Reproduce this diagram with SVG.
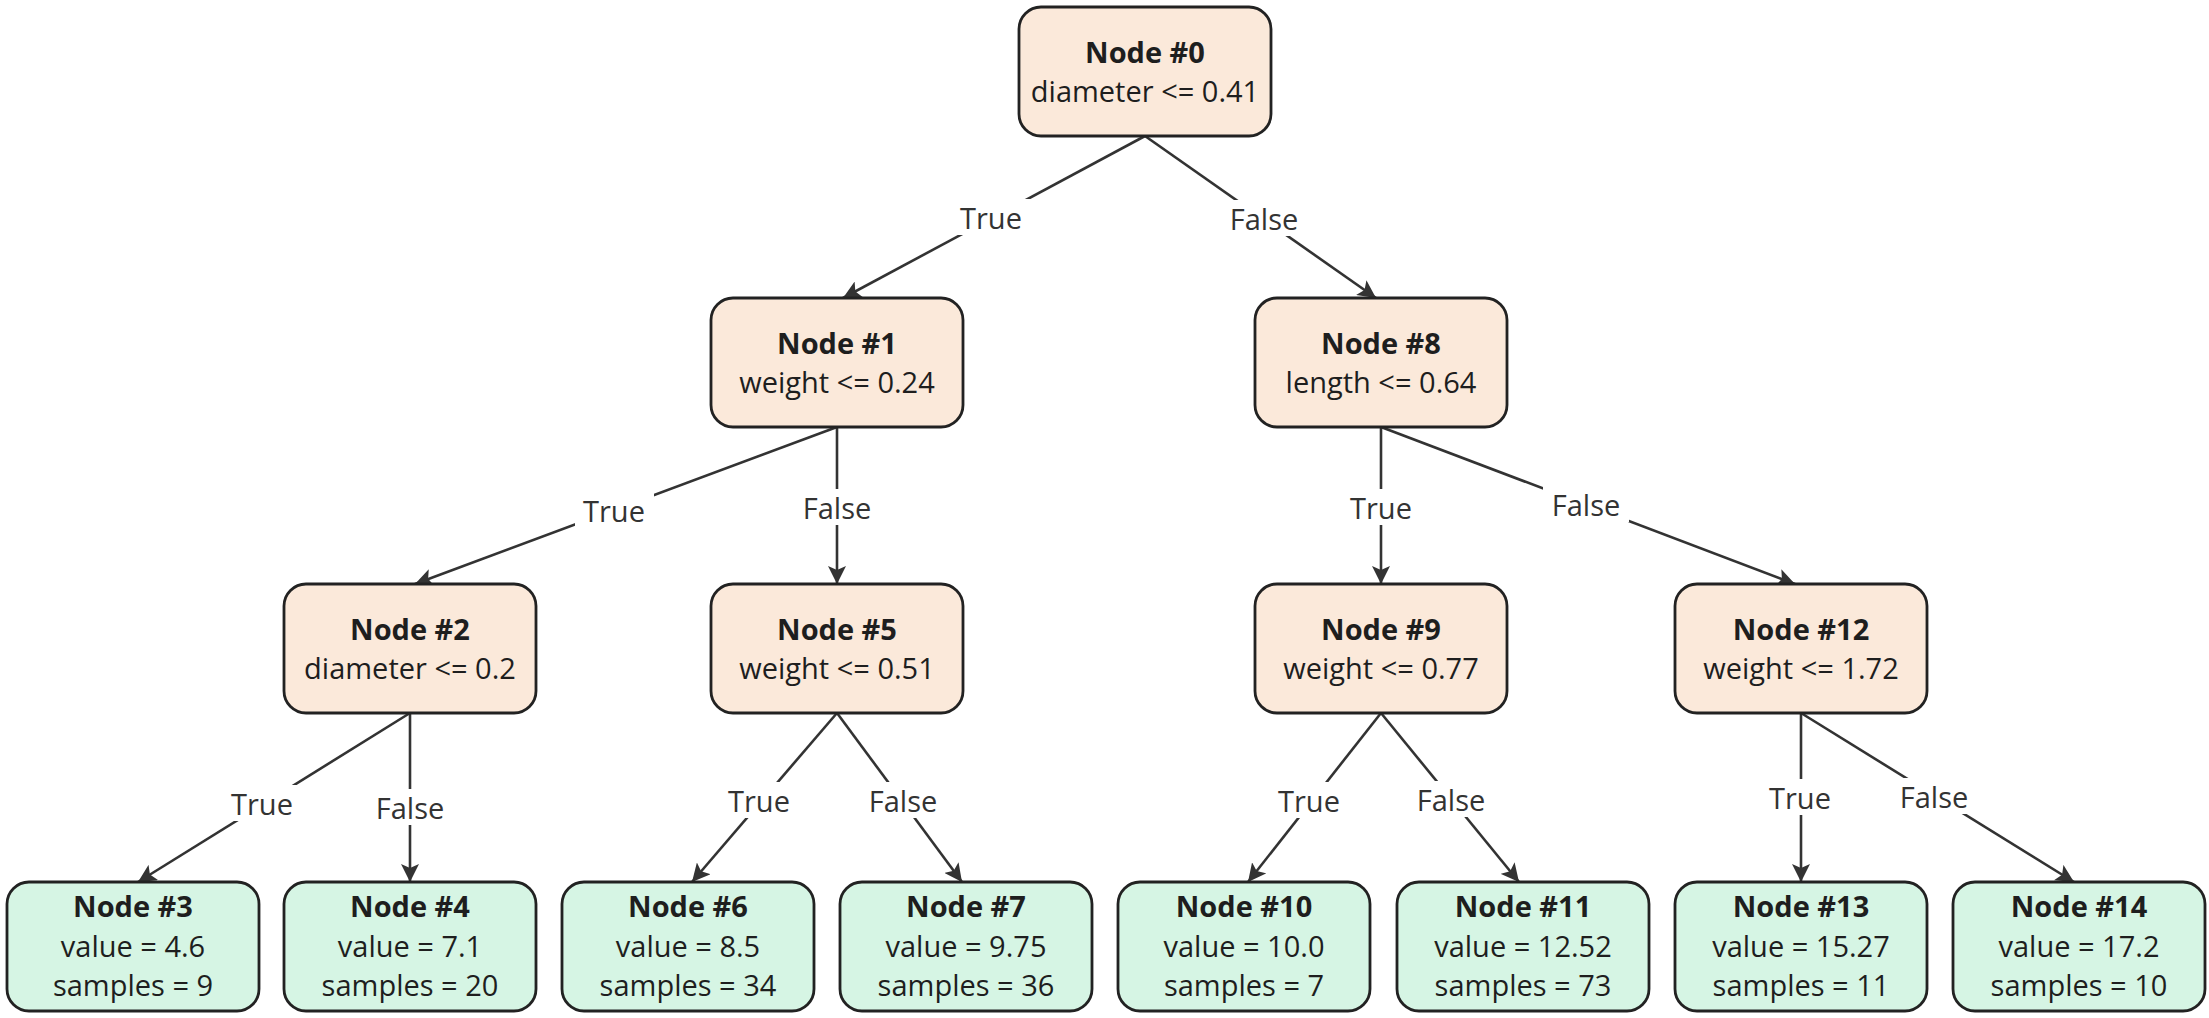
<svg xmlns="http://www.w3.org/2000/svg" width="2209" height="1018" viewBox="0 0 2209 1018">
<style>
.split rect{fill:#fbe9da;stroke:#222;stroke-width:2.8}
.leaf rect{fill:#d6f5e4;stroke:#222;stroke-width:2.8}
text{font-family:"Open Sans","Noto Sans","Liberation Sans",sans-serif;font-size:29px;fill:#1e1e1e;text-anchor:middle}
.t{font-weight:bold}
#edges path{stroke:#333;stroke-width:2.6;fill:none;marker-end:url(#arr)}
#edges rect{fill:#fff}
#edges text{fill:#333;dominant-baseline:central}
</style>
<defs>
<marker id="arr" markerUnits="userSpaceOnUse" markerWidth="20" markerHeight="18" refX="18" refY="9" orient="auto">
<path d="M0,0 L18,9 L0,18 L4,9 Z" fill="#333"/>
</marker>
</defs>
<rect width="2209" height="1018" fill="#fff"/>
<g id="edges">
<path d="M1145,136 L843,298"/>
<path d="M1145,136 L1376,298"/>
<path d="M837,427 L415,584"/>
<path d="M837,427 L837,584"/>
<path d="M1381,427 L1381,584"/>
<path d="M1381,427 L1795,584"/>
<path d="M410,713 L138,882"/>
<path d="M410,713 L410,882"/>
<path d="M837,713 L692,882"/>
<path d="M837,713 L962,882"/>
<path d="M1381,713 L1248,882"/>
<path d="M1381,713 L1519,882"/>
<path d="M1801,713 L1801,882"/>
<path d="M1801,713 L2074,882"/>
<rect x="952" y="199" width="79" height="36"/><text x="991" y="217">True</text>
<rect x="1221" y="200" width="86" height="36"/><text x="1264" y="218">False</text>
<rect x="575" y="492" width="79" height="36"/><text x="614" y="510">True</text>
<rect x="794" y="489" width="86" height="36"/><text x="837" y="507">False</text>
<rect x="1342" y="489" width="79" height="36"/><text x="1381" y="507">True</text>
<rect x="1543" y="486" width="86" height="36"/><text x="1586" y="504">False</text>
<rect x="223" y="785" width="79" height="36"/><text x="262" y="803">True</text>
<rect x="367" y="789" width="86" height="36"/><text x="410" y="807">False</text>
<rect x="720" y="782" width="79" height="36"/><text x="759" y="800">True</text>
<rect x="860" y="782" width="86" height="36"/><text x="903" y="800">False</text>
<rect x="1270" y="782" width="79" height="36"/><text x="1309" y="800">True</text>
<rect x="1408" y="781" width="86" height="36"/><text x="1451" y="799">False</text>
<rect x="1761" y="779" width="79" height="36"/><text x="1800" y="797">True</text>
<rect x="1891" y="778" width="86" height="36"/><text x="1934" y="796">False</text>
</g>
<g id="node0" class="split"><rect x="1019" y="7" width="252" height="129" rx="22"/><text class="t" x="1145" y="63">Node #0</text><text x="1145" y="102">diameter &lt;= 0.41</text></g>
<g id="node1" class="split"><rect x="711" y="298" width="252" height="129" rx="22"/><text class="t" x="837" y="354">Node #1</text><text x="837" y="393">weight &lt;= 0.24</text></g>
<g id="node8" class="split"><rect x="1255" y="298" width="252" height="129" rx="22"/><text class="t" x="1381" y="354">Node #8</text><text x="1381" y="393">length &lt;= 0.64</text></g>
<g id="node2" class="split"><rect x="284" y="584" width="252" height="129" rx="22"/><text class="t" x="410" y="640">Node #2</text><text x="410" y="679">diameter &lt;= 0.2</text></g>
<g id="node5" class="split"><rect x="711" y="584" width="252" height="129" rx="22"/><text class="t" x="837" y="640">Node #5</text><text x="837" y="679">weight &lt;= 0.51</text></g>
<g id="node9" class="split"><rect x="1255" y="584" width="252" height="129" rx="22"/><text class="t" x="1381" y="640">Node #9</text><text x="1381" y="679">weight &lt;= 0.77</text></g>
<g id="node12" class="split"><rect x="1675" y="584" width="252" height="129" rx="22"/><text class="t" x="1801" y="640">Node #12</text><text x="1801" y="679">weight &lt;= 1.72</text></g>
<g id="node3" class="leaf"><rect x="7" y="882" width="252" height="129" rx="22"/><text class="t" x="133" y="917">Node #3</text><text x="133" y="957">value = 4.6</text><text x="133" y="996">samples = 9</text></g>
<g id="node4" class="leaf"><rect x="284" y="882" width="252" height="129" rx="22"/><text class="t" x="410" y="917">Node #4</text><text x="410" y="957">value = 7.1</text><text x="410" y="996">samples = 20</text></g>
<g id="node6" class="leaf"><rect x="562" y="882" width="252" height="129" rx="22"/><text class="t" x="688" y="917">Node #6</text><text x="688" y="957">value = 8.5</text><text x="688" y="996">samples = 34</text></g>
<g id="node7" class="leaf"><rect x="840" y="882" width="252" height="129" rx="22"/><text class="t" x="966" y="917">Node #7</text><text x="966" y="957">value = 9.75</text><text x="966" y="996">samples = 36</text></g>
<g id="node10" class="leaf"><rect x="1118" y="882" width="252" height="129" rx="22"/><text class="t" x="1244" y="917">Node #10</text><text x="1244" y="957">value = 10.0</text><text x="1244" y="996">samples = 7</text></g>
<g id="node11" class="leaf"><rect x="1397" y="882" width="252" height="129" rx="22"/><text class="t" x="1523" y="917">Node #11</text><text x="1523" y="957">value = 12.52</text><text x="1523" y="996">samples = 73</text></g>
<g id="node13" class="leaf"><rect x="1675" y="882" width="252" height="129" rx="22"/><text class="t" x="1801" y="917">Node #13</text><text x="1801" y="957">value = 15.27</text><text x="1801" y="996">samples = 11</text></g>
<g id="node14" class="leaf"><rect x="1953" y="882" width="252" height="129" rx="22"/><text class="t" x="2079" y="917">Node #14</text><text x="2079" y="957">value = 17.2</text><text x="2079" y="996">samples = 10</text></g>
</svg>
